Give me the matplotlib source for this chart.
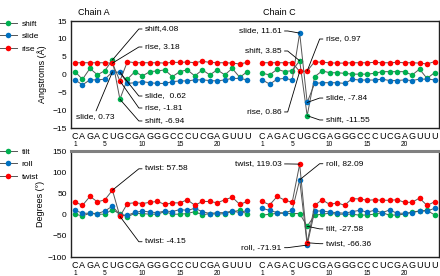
import numpy as np
import matplotlib
matplotlib.use("Agg")
import matplotlib.pyplot as plt
from matplotlib.lines import Line2D

plt.rcParams['font.family'] = ['Liberation Sans', 'DejaVu Sans']

# sequence of each chain
seq = list("CAGACUGCGAGGGCCCUCGAGUUU")
num_ticks = [1, 5, 10, 15, 20]

# translational step parameters (Angstroms)
shift_A = [0.8, -1.35, 1.7, -0.1, 1.1, 4.08, -6.94, -1.3, 0.8, -0.4, 0.8, 1.0,
           1.3, -0.6, 0.8, 1.3, -0.4, 1.3, -0.1, 1.3, -0.1, 1.7, -0.8, 0.8]
slide_A = [-1.5, -2.9, -1.5, -1.5, -1.3, 0.73, 0.62, -2.5, -2.3, -2.0, -2.3, -2.5,
           -2.5, -2.0, -1.8, -1.8, -1.5, -1.5, -1.7, -1.8, -1.5, -1.1, -1.1, -1.5]
rise_A = [3.3, 3.3, 3.3, 3.3, 3.3, 3.18, -1.81, 3.6, 3.3, 3.3, 3.3, 3.3,
          3.2, 3.4, 3.4, 3.5, 3.3, 3.7, 3.4, 3.3, 3.3, 3.2, 2.95, 3.4]
shift_C = [0.33, -0.1, 1.46, 0.8, 1.1, 3.85, -11.55, -0.6, 1.0, 0.5, 0.5, 0.33,
           0.1, 0.1, 0.1, 0.33, 0.8, 0.8, 0.8, 0.8, -0.15, 1.5, -1.1, 0.5]
slide_C = [-1.5, -2.7, -1.3, -1.1, -1.5, 11.61, -7.84, -2.5, -2.3, -2.3, -2.3, -2.5,
           -1.35, -1.55, -1.55, -1.55, -1.3, -1.7, -1.7, -1.5, -1.7, -1.3, -1.3, -1.5]
rise_C = [3.3, 3.3, 3.3, 3.3, 3.3, 0.86, 0.97, 3.6, 3.4, 3.3, 3.2, 3.2,
          3.3, 3.3, 3.3, 3.4, 3.3, 3.3, 3.4, 3.3, 3.3, 3.2, 2.95, 3.6]

# rotational step parameters (degrees)
tilt_A = [1, -3, 3, 1, 1, 12, 1, -5, 3, 2.5, 1, 1,
          7, 1, 1, 2.5, 7, -0.7, 2.5, 1, 2.5, 7, 10, 1]
roll_A = [10, 3.2, 3.2, 2.5, 8.5, 20, -0.7, -1.4, 5, 8.5, 6, 4.6,
          8.5, 7, 12, 10, 14.7, 7, 2.5, 4.6, 4.6, 8.5, 4.6, 10]
twist_A = [30, 21.6, 43, 30, 35, 57.58, -4.15, 26, 28, 26, 29, 31,
           24, 27.7, 27.7, 35, 22, 31, 31, 27.7, 35, 41, 24, 31]
tilt_C = [-1.4, 1, 3, 3.2, 2.5, 2.5, -27.58, -1.4, 1, 3.2, 1, 1,
          1, -1.4, -0.7, 1, 4.6, -1.4, -0.7, 1, 6, 8.5, 10, -0.7]
roll_C = [14.7, 10, 4.6, 4, 10, 82.09, -71.91, 8.5, 8.5, 6, 4.6, 3.2,
          7, 10, 6, 10, 4.6, 10.9, 3.2, 3.2, 4.6, 8.5, 8.5, 14.7]
twist_C = [31, 23, 43, 34, 29, 119.03, -66.36, 22, 35, 24, 27.7, 22,
           37.6, 37, 33.8, 35, 33.8, 33.8, 35, 29, 29, 39, 21.6, 30]

GREEN, BLUE, RED = '#00B050', '#0070C0', '#FF0000'
n = len(seq)
offC = n + 1  # chain C placed after a one-step gap
xA = np.arange(1, n + 1)
xC = xA + offC
x = np.concatenate([xA, [np.nan], xC])


def join(a, c):
    return np.concatenate([a, [np.nan], c])


fig = plt.figure(figsize=(4.4, 2.76), dpi=100)
ax1 = fig.add_axes([71/440, 1-128/276, 368/440, 107/276])
ax2 = fig.add_axes([71/440, 1-257/276, 368/440, 106/276])


def draw(ax, series):
    for vals, col in series:
        ax.plot(x, vals, '-', color='#555555', lw=0.7, marker='o', ms=4,
                mfc=col, mec=col, mew=0)


draw(ax1, [(join(shift_A, shift_C), GREEN), (join(slide_A, slide_C), BLUE),
           (join(rise_A, rise_C), RED)])
draw(ax2, [(join(tilt_A, tilt_C), GREEN), (join(roll_A, roll_C), BLUE),
           (join(twist_A, twist_C), RED)])

for ax, lo, hi, step, ylab, lx in [(ax1, -15, 15, 5, 'Angstroms (Å)', -0.065),
                                   (ax2, -100, 150, 50, 'Degrees (°)', -0.071)]:
    ax.set_xlim(0.47, 2 * n + 1.6)
    ax.set_ylim(lo, hi)
    ax.set_yticks(np.arange(lo, hi + 1, step))
    ax.set_xticks(np.concatenate([xA, xC]), seq + seq)
    ax.tick_params(axis='both', length=0, labelsize=6)
    ax.tick_params(axis='x', pad=3, labelsize=6.5)
    ax.tick_params(axis='y', pad=3)
    ax.set_ylabel(ylab, fontsize=6.5)
    ax.yaxis.set_label_coords(lx, 0.5)
    for s in ax.spines.values():
        s.set_linewidth(1.0)
        s.set_color('#222222')
    for k in num_ticks:
        for xx in (k, k + offC):
            ax.annotate(str(k), xy=(xx, 0), xycoords=('data', 'axes fraction'),
                        xytext=(0, -13), textcoords='offset pixels',
                        ha='center', va='top', fontsize=4.8)

ax2.spines['top'].set_color('#808080')
ax2.spines['top'].set_linewidth(2.2)

ax1.text(3.5, 1.08, 'Chain A', transform=ax1.get_xaxis_transform(),
         ha='center', va='center', fontsize=6.5)
ax1.text(28.3, 1.08, 'Chain C', transform=ax1.get_xaxis_transform(),
         ha='center', va='center', fontsize=6.5)


def note(ax, txt, xy, xyt, side):
    # side: 'r' text to right of elbow, 'l' text to left, 'b' text below
    if side == 'r':
        ha, rel, cs = 'left', (0, 0.5), 'arc,angleA=180,armA=6,angleB=0,armB=0,rad=0'
    elif side == 'l':
        ha, rel, cs = 'right', (1, 0.5), 'arc,angleA=0,armA=6,angleB=0,armB=0,rad=0'
    else:
        ha, rel, cs = 'center', (0.5, 1), 'arc3'
    ax.annotate(txt, xy=xy, xytext=xyt, ha=ha, va='center', fontsize=6,
                arrowprops=dict(arrowstyle='-', color='black', lw=0.6,
                                relpos=rel, patchA=None, shrinkA=2, shrinkB=0,
                                connectionstyle=cs))


# top panel notes
note(ax1, 'shift,4.08', (6, shift_A[5]), (10.33, 12.76), 'r')
note(ax1, 'rise, 3.18', (6, rise_A[5]), (10.33, 7.71), 'r')
note(ax1, 'slide,  0.62', (7, slide_A[6]), (10.33, -6.03), 'r')
note(ax1, 'rise, -1.81', (7, rise_A[6]), (10.33, -9.39), 'r')
note(ax1, 'shift, -6.94', (7, shift_A[6]), (10.33, -13.03), 'r')
note(ax1, 'slide, 0.73', (6, slide_A[5]), (3.67, -11.9), 'b')
note(ax1, 'slide, 11.61', (6 + offC, slide_C[5]), (28.6, 12.2), 'l')
note(ax1, 'shift, 3.85', (6 + offC, shift_C[5]), (28.6, 6.59), 'l')
note(ax1, 'rise, 0.86', (6 + offC, rise_C[5]), (28.6, -10.5), 'l')
note(ax1, 'rise, 0.97', (7 + offC, rise_C[6]), (34.47, 9.95), 'r')
note(ax1, 'slide, -7.84', (7 + offC, slide_C[6]), (34.47, -6.6), 'r')
note(ax1, 'shift, -11.55', (7 + offC, shift_C[6]), (34.47, -12.75), 'r')

# bottom panel notes
note(ax2, 'twist: 57.58', (6, twist_A[5]), (10.33, 108), 'r')
note(ax2, 'twist: -4.15', (7, twist_A[6]), (10.33, -64), 'r')
note(ax2, 'twist, 119.03', (6 + offC, twist_C[5]), (28.6, 119.5), 'l')
note(ax2, 'roll, -71.91', (7 + offC, roll_C[6]), (28.6, -78), 'l')
note(ax2, 'roll, 82.09', (7 + offC - 1, roll_C[5]), (34.47, 120), 'r')
note(ax2, 'tilt, -27.58', (7 + offC, tilt_C[6]), (34.47, -33.7), 'r')
note(ax2, 'twist, -66.36', (7 + offC, twist_C[6]), (34.47, -68.6), 'r')


def legend(labels, cols, top):
    hs = [Line2D([0], [0], color='#555555', lw=0.7, marker='o', ms=4,
                 mfc=c, mec=c, mew=0) for c in cols]
    fig.legend(hs, labels, loc='upper left', bbox_to_anchor=(0.0, top),
               frameon=False, fontsize=6, handlelength=2.0, handletextpad=0.6,
               labelspacing=0.55, borderpad=0, borderaxespad=0)


legend(['shift', 'slide', 'rise'], [GREEN, BLUE, RED], 1 - 20/276)
legend(['tilt', 'roll', 'twist'], [GREEN, BLUE, RED], 1 - 148/276)

fig.savefig('out.png', dpi=100)
